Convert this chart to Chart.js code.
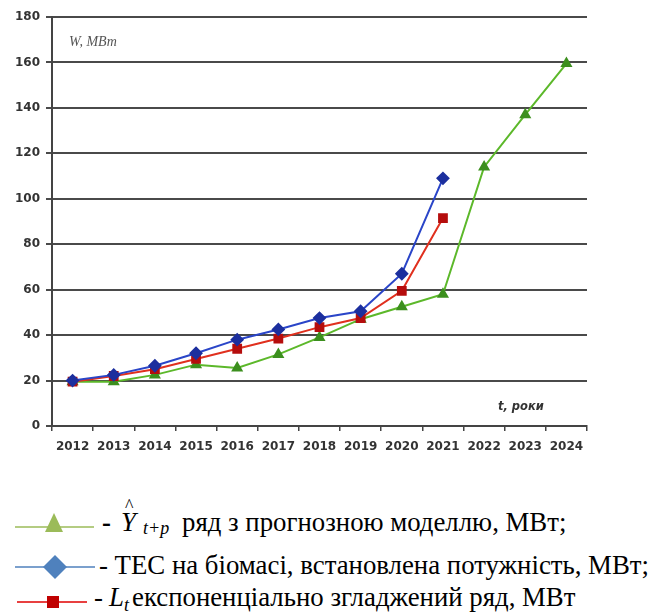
<!DOCTYPE html>
<html>
<head>
<meta charset="utf-8">
<script src="https://cdn.jsdelivr.net/npm/chart.js@4"></script>
<style>
  body { margin: 0; background: #fff; width: 651px; height: 612px; overflow: hidden; position: relative; }
  #wrap { position: absolute; left: 0; top: 0; width: 651px; height: 470px; }
  #icons { position: absolute; left: 0; top: 495px; }
  .t { position: absolute; font-family: "Liberation Serif", "Times New Roman", "DejaVu Serif", serif; font-size: 26.8px; line-height: 27px; color: #000; white-space: nowrap; }
  .it { font-style: italic; }
  .sub { font-size: 18px; line-height: 18px; font-style: italic; }
</style>
</head>
<body>
<div id="wrap"><canvas id="myChart"></canvas></div>

<svg id="icons" width="100" height="117">
  <line x1="15" y1="32" x2="94" y2="32" stroke="#9bbb59" stroke-width="1.5"/>
  <polygon points="54,18 63,37 45,37" fill="#9bbb59"/>
  <line x1="15" y1="72" x2="95" y2="72" stroke="#4f81bd" stroke-width="1.5"/>
  <polygon points="55,60 67,72 55,84 43,72" fill="#4f81bd"/>
  <line x1="17" y1="107" x2="87" y2="107" stroke="#e00000" stroke-width="1.5"/>
  <rect x="47" y="101" width="12" height="12" fill="#c00000"/>
</svg>

<span class="t" style="left:102px;top:509px;font-weight:bold">-</span>
<span class="t it" style="left:121px;top:509px">Y</span>
<span class="t" style="left:125px;top:493px;font-size:18px">^</span>
<span class="t sub" style="left:143px;top:519px">t+p</span>
<span class="t" style="left:182px;top:509px">ряд з прогнозною моделлю, МВт;</span>

<span class="t" style="left:99px;top:552px">- ТЕС на біомасі, встановлена потужність, МВт;</span>

<span class="t" style="left:94px;top:584px">-</span>
<span class="t it" style="left:109px;top:584px">L</span>
<span class="t sub" style="left:124px;top:596px">t</span>
<span class="t" style="left:132px;top:584px">експоненціально згладжений ряд, МВт</span>

<script>
// years on the x axis
const years = ["2012", "2013", "2014", "2015", "2016", "2017", "2018", "2019", "2020", "2021", "2022", "2023", "2024"];

// series, MW
const forecast = [19.5, 19.5, 22.5, 27, 25.5, 31.5, 39, 47, 52.5, 58, 114, 137, 159.5];
const installed = [20, 22.5, 26.5, 32, 38, 42.5, 47.5, 50.5, 67, 109, null, null, null];
const smoothed = [19.5, 22, 25, 29.5, 34, 38.5, 43.5, 47.5, 59.5, 91.5, null, null, null];

// y axis
const yMin = 0;
const yMax = 180;
const yStep = 20;

// axis captions inside the plot
const captions = {
  id: "captions",
  afterDraw(chart) {
    const ctx = chart.ctx;
    const area = chart.chartArea;
    ctx.save();
    ctx.fillStyle = "#555";
    ctx.font = "italic 14px 'Liberation Serif'";
    ctx.textBaseline = "middle";
    ctx.fillText("W, МВт", area.left + 17, area.top + 25);
    ctx.fillStyle = "#333";
    ctx.font = "bold italic 11.5px 'DejaVu Sans'";
    ctx.fillText("t, роки", area.left + 446, area.bottom - 19);
    ctx.restore();
  },
};

new Chart("myChart", {
  type: "line",
  data: {
    labels: years,
    datasets: [
      {
        data: installed,
        borderColor: "#2a45c8",
        backgroundColor: "#1c2f9e",
        pointBackgroundColor: "#1c2f9e",
        pointBorderColor: "#1c2f9e",
        pointStyle: "rectRot",
        pointRadius: 5.5,
        borderWidth: 2,
        fill: false,
      },
      {
        data: smoothed,
        borderColor: "#e0301e",
        backgroundColor: "#b50d0d",
        pointBackgroundColor: "#b50d0d",
        pointBorderColor: "#b50d0d",
        pointStyle: "rect",
        pointRadius: 5.5,
        borderWidth: 2,
        fill: false,
      },
      {
        data: forecast,
        borderColor: "#5cb82a",
        backgroundColor: "#3c8f1e",
        pointBackgroundColor: "#3c8f1e",
        pointBorderColor: "#3c8f1e",
        pointStyle: "triangle",
        pointRadius: 5,
        borderWidth: 2,
        fill: false,
      },
    ],
  },
  options: {
    responsive: true,
    maintainAspectRatio: false,
    animation: false,
    layout: { padding: { left: 0, right: 64, top: 17, bottom: 10 } },
    plugins: { legend: { display: false }, tooltip: { enabled: false } },
    scales: {
      x: {
        offset: true,
        grid: { drawOnChartArea: false, offset: true, tickLength: 5, color: "#444", lineWidth: 1.5 },
        border: { color: "#444", width: 2 },
        ticks: { color: "#333", font: { family: "DejaVu Sans", size: 12, weight: "bold" }, maxRotation: 0, autoSkip: false, padding: 9 },
        afterFit(scale) { scale.height = 34; },
      },
      y: {
        min: yMin,
        max: yMax,
        grid: { color: "#4a4a4a", lineWidth: 2, tickLength: 6 },
        border: { color: "#444", width: 2 },
        ticks: { stepSize: yStep, color: "#333", font: { family: "DejaVu Sans", size: 12, weight: "bold" }, padding: 6 },
        afterFit(scale) { scale.width = 52; },
      },
    },
  },
  plugins: [captions],
});
</script>
</body>
</html>
